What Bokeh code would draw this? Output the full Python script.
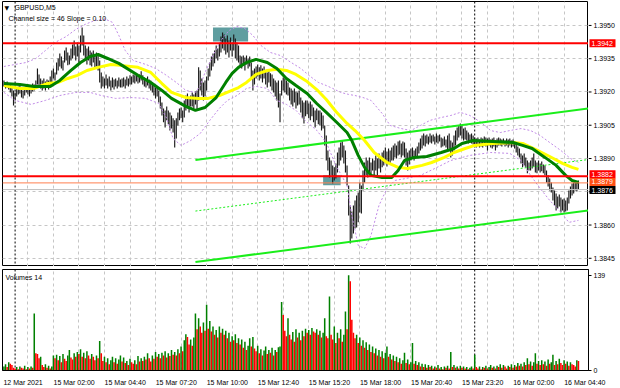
from bokeh.plotting import figure
from bokeh.layouts import column, row
from bokeh.models import Range1d, FixedTicker, Span, Label, Grid
from bokeh.core.properties import value
from bokeh.embed import file_html
from bokeh.resources import INLINE

FONT = "Liberation Sans"

symbol_label = "GBPUSD,M5"
channel_label = "Channel size = 46 Slope = 0.10"
volume_label = "Volumes 14"

# M5 bars, index counted from 15 Mar 2021 00:00 (first visible bar is 12 Mar 23:25)
first_bar = -7
highs = [
    1.39252, 1.39243, 1.39247, 1.39238, 1.39234, 1.39225, 1.39207,
    1.39198, 1.39216, 1.39225, 1.39229, 1.39216, 1.39207, 1.39220, 1.39229, 1.39234, 1.39225,
    1.39229, 1.39238, 1.39234, 1.39252, 1.39306, 1.39279, 1.39261, 1.39252, 1.39261, 1.39247,
    1.39256, 1.39252, 1.39270, 1.39297, 1.39306, 1.39288, 1.39333, 1.39351, 1.39374, 1.39360,
    1.39342, 1.39387, 1.39401, 1.39378, 1.39365, 1.39396, 1.39414, 1.39432, 1.39405, 1.39423,
    1.39410, 1.39455, 1.39491, 1.39455, 1.39410, 1.39396, 1.39405, 1.39387, 1.39378, 1.39387,
    1.39365, 1.39378, 1.39369, 1.39342, 1.39288, 1.39270, 1.39261, 1.39279, 1.39261, 1.39270,
    1.39252, 1.39265, 1.39256, 1.39261, 1.39252, 1.39265, 1.39256, 1.39261, 1.39265, 1.39256,
    1.39270, 1.39261, 1.39275, 1.39270, 1.39279, 1.39275, 1.39284, 1.39275, 1.39279, 1.39293,
    1.39275, 1.39265, 1.39261, 1.39270, 1.39256, 1.39252, 1.39243, 1.39229, 1.39220, 1.39225,
    1.39207, 1.39180, 1.39153, 1.39126, 1.39117, 1.39135, 1.39117, 1.39108, 1.39094, 1.39081,
    1.39072, 1.39081, 1.39108, 1.39126, 1.39130, 1.39117, 1.39162, 1.39184, 1.39193, 1.39175,
    1.39184, 1.39198, 1.39189, 1.39202, 1.39207, 1.39311, 1.39297, 1.39261, 1.39243, 1.39252,
    1.39270, 1.39306, 1.39333, 1.39360, 1.39374, 1.39387, 1.39410, 1.39396, 1.39419, 1.39450,
    1.39468, 1.39459, 1.39441, 1.39455, 1.39432, 1.39446, 1.39423, 1.39459, 1.39441, 1.39423,
    1.39410, 1.39365, 1.39360, 1.39365, 1.39356, 1.39365, 1.39351, 1.39360, 1.39333, 1.39297,
    1.39306, 1.39315, 1.39324, 1.39311, 1.39320, 1.39306, 1.39315, 1.39297, 1.39288, 1.39297,
    1.39284, 1.39279, 1.39261, 1.39252, 1.39243, 1.39252, 1.39193, 1.39252, 1.39265, 1.39261,
    1.39252, 1.39243, 1.39220, 1.39216, 1.39207, 1.39216, 1.39202, 1.39198, 1.39207, 1.39175,
    1.39162, 1.39153, 1.39162, 1.39162, 1.39148, 1.39157, 1.39144, 1.39130, 1.39117, 1.39126,
    1.39117, 1.39117, 1.39108, 1.39094, 1.39049, 1.39004, 1.38936, 1.38905, 1.38891, 1.38869,
    1.38860, 1.38878, 1.38927, 1.38950, 1.38972, 1.38981, 1.38959, 1.38936, 1.38869, 1.38778,
    1.38688, 1.38661, 1.38688, 1.38711, 1.38733, 1.38747, 1.38792, 1.38778, 1.38846, 1.38882,
    1.38905, 1.38891, 1.38905, 1.38882, 1.38900, 1.38891, 1.38914, 1.38900, 1.38923, 1.38909,
    1.38927, 1.38936, 1.38950, 1.38932, 1.38945, 1.38936, 1.38950, 1.38959, 1.38968, 1.38959,
    1.38977, 1.38981, 1.38968, 1.38977, 1.38972, 1.38945, 1.38927, 1.38936, 1.38945, 1.38950,
    1.38936, 1.38945, 1.38954, 1.38972, 1.38990, 1.39004, 1.39013, 1.39004, 1.39008, 1.38999,
    1.39013, 1.39004, 1.39008, 1.38999, 1.39013, 1.39004, 1.39008, 1.38995, 1.38990, 1.38999,
    1.38986, 1.39004, 1.39013, 1.38981, 1.38972, 1.39004, 1.39026, 1.39040, 1.39049, 1.39058,
    1.39049, 1.39035, 1.39040, 1.39026, 1.39017, 1.39008, 1.39013, 1.39004, 1.38995, 1.38990,
    1.38995, 1.38986, 1.38995, 1.38990, 1.38999, 1.38995, 1.38990, 1.38995, 1.38986, 1.38990,
    1.38995, 1.38981, 1.38990, 1.38995, 1.38990, 1.38986, 1.38990, 1.38981, 1.38990, 1.38986,
    1.38990, 1.38981, 1.38986, 1.38977, 1.38968, 1.38954, 1.38945, 1.38923, 1.38914, 1.38923,
    1.38905, 1.38891, 1.38882, 1.38891, 1.38905, 1.38923, 1.38891, 1.38882, 1.38891, 1.38878,
    1.38887, 1.38873, 1.38869, 1.38846, 1.38824, 1.38810, 1.38792, 1.38769, 1.38756, 1.38742,
    1.38729, 1.38738, 1.38724, 1.38715, 1.38720, 1.38711, 1.38724, 1.38756, 1.38774, 1.38787,
    1.38792, 1.38801, 1.38796, 1.38801,
]
lows = [
    1.39225, 1.39216, 1.39220, 1.39211, 1.39198, 1.39180, 1.39139,
    1.39162, 1.39180, 1.39189, 1.39193, 1.39175, 1.39171, 1.39184, 1.39198, 1.39189, 1.39180,
    1.39193, 1.39202, 1.39207, 1.39216, 1.39234, 1.39225, 1.39216, 1.39207, 1.39216, 1.39207,
    1.39220, 1.39211, 1.39225, 1.39243, 1.39261, 1.39252, 1.39279, 1.39297, 1.39315, 1.39306,
    1.39297, 1.39333, 1.39342, 1.39320, 1.39324, 1.39342, 1.39351, 1.39365, 1.39342, 1.39360,
    1.39333, 1.39378, 1.39410, 1.39365, 1.39342, 1.39324, 1.39342, 1.39320, 1.39315, 1.39333,
    1.39306, 1.39315, 1.39297, 1.39243, 1.39216, 1.39225, 1.39216, 1.39229, 1.39216, 1.39225,
    1.39207, 1.39220, 1.39211, 1.39225, 1.39216, 1.39225, 1.39220, 1.39220, 1.39225, 1.39216,
    1.39229, 1.39225, 1.39234, 1.39234, 1.39243, 1.39238, 1.39247, 1.39238, 1.39243, 1.39252,
    1.39234, 1.39225, 1.39220, 1.39229, 1.39216, 1.39207, 1.39198, 1.39184, 1.39171, 1.39180,
    1.39153, 1.39126, 1.39094, 1.39063, 1.39040, 1.39072, 1.39054, 1.39026, 1.39035, 1.39017,
    1.38950, 1.38990, 1.39049, 1.39072, 1.39081, 1.39063, 1.39085, 1.39117, 1.39126, 1.39108,
    1.39135, 1.39135, 1.39126, 1.39144, 1.39117, 1.39162, 1.39207, 1.39184, 1.39162, 1.39180,
    1.39207, 1.39252, 1.39270, 1.39297, 1.39315, 1.39329, 1.39351, 1.39342, 1.39360, 1.39378,
    1.39396, 1.39387, 1.39369, 1.39378, 1.39356, 1.39387, 1.39360, 1.39387, 1.39351, 1.39342,
    1.39333, 1.39315, 1.39306, 1.39320, 1.39297, 1.39324, 1.39306, 1.39315, 1.39261, 1.39207,
    1.39234, 1.39261, 1.39270, 1.39252, 1.39261, 1.39243, 1.39261, 1.39234, 1.39220, 1.39243,
    1.39225, 1.39207, 1.39198, 1.39180, 1.39162, 1.39130, 1.39063, 1.39184, 1.39207, 1.39198,
    1.39189, 1.39184, 1.39162, 1.39144, 1.39135, 1.39153, 1.39126, 1.39139, 1.39144, 1.39108,
    1.39081, 1.39058, 1.39090, 1.39099, 1.39081, 1.39072, 1.39090, 1.39063, 1.39040, 1.39072,
    1.39054, 1.39049, 1.39026, 1.39035, 1.38959, 1.38891, 1.38846, 1.38814, 1.38824, 1.38787,
    1.38801, 1.38810, 1.38837, 1.38869, 1.38891, 1.38905, 1.38878, 1.38837, 1.38778, 1.38643,
    1.38517, 1.38539, 1.38562, 1.38584, 1.38589, 1.38612, 1.38657, 1.38652, 1.38756, 1.38792,
    1.38824, 1.38814, 1.38837, 1.38819, 1.38846, 1.38819, 1.38846, 1.38824, 1.38855, 1.38837,
    1.38860, 1.38869, 1.38882, 1.38864, 1.38878, 1.38873, 1.38891, 1.38891, 1.38905, 1.38900,
    1.38914, 1.38918, 1.38905, 1.38914, 1.38905, 1.38869, 1.38846, 1.38873, 1.38891, 1.38900,
    1.38891, 1.38900, 1.38905, 1.38923, 1.38936, 1.38945, 1.38959, 1.38954, 1.38968, 1.38963,
    1.38972, 1.38968, 1.38977, 1.38963, 1.38972, 1.38968, 1.38977, 1.38950, 1.38954, 1.38959,
    1.38950, 1.38936, 1.38945, 1.38905, 1.38914, 1.38936, 1.38959, 1.38981, 1.38995, 1.39004,
    1.38990, 1.38981, 1.38986, 1.38981, 1.38968, 1.38972, 1.38968, 1.38963, 1.38954, 1.38950,
    1.38959, 1.38950, 1.38954, 1.38950, 1.38959, 1.38954, 1.38936, 1.38959, 1.38950, 1.38945,
    1.38954, 1.38936, 1.38950, 1.38959, 1.38959, 1.38954, 1.38963, 1.38954, 1.38959, 1.38950,
    1.38959, 1.38950, 1.38954, 1.38945, 1.38927, 1.38914, 1.38905, 1.38878, 1.38860, 1.38869,
    1.38860, 1.38833, 1.38846, 1.38846, 1.38855, 1.38864, 1.38837, 1.38833, 1.38846, 1.38837,
    1.38842, 1.38833, 1.38824, 1.38792, 1.38774, 1.38756, 1.38747, 1.38711, 1.38688, 1.38666,
    1.38675, 1.38684, 1.38657, 1.38666, 1.38657, 1.38661, 1.38666, 1.38697, 1.38720, 1.38733,
    1.38742, 1.38756, 1.38751, 1.38760,
]
volumes = [
    6, 9, 5, 12, 10, 8, 4,
    3, 5, 2, 6, 4, 3, 7, 2, 5, 3,
    6, 4, 83, 25, 24, 18, 20, 8, 5, 9,
    4, 7, 3, 6, 22, 18, 23, 15, 21, 12,
    24, 17, 14, 22, 30, 19, 16, 25, 20, 27,
    24, 31, 20, 26, 18, 28, 22, 17, 24, 20,
    15, 22, 18, 43, 25, 14, 20, 12, 18, 9,
    15, 20, 12, 18, 10, 16, 22, 13, 19, 11,
    14, 8, 17, 12, 10, 15, 9, 21, 13, 18,
    14, 20, 16, 25, 18, 13, 22, 17, 27, 20,
    24, 18, 26, 22, 28, 19, 25, 21, 30, 23,
    27, 22, 31, 25, 35, 28, 44, 53, 49, 38,
    45, 36, 48, 83, 60, 76, 64, 55, 70, 58,
    96, 61, 72, 57, 64, 52, 59, 48, 64, 55,
    61, 52, 58, 47, 55, 42, 50, 44, 53, 40,
    47, 38, 45, 33, 42, 30, 36, 47, 35, 49,
    32, 28, 36, 25, 31, 22, 29, 35, 24, 30,
    26, 33, 22, 30, 27, 34, 35, 100, 81, 58,
    50, 76, 52, 45, 56, 42, 60, 48, 55, 44,
    58, 50, 61, 55, 59, 52, 62, 57, 55, 60,
    52, 58, 48, 55, 76, 50, 47, 108, 52, 45,
    64, 40, 55, 47, 60, 42, 52, 86, 60, 139,
    130, 74, 55, 47, 52, 40, 48, 36, 44, 33,
    41, 30, 38, 27, 35, 25, 32, 22, 30, 20,
    28, 18, 26, 35, 20, 24, 16, 22, 14, 20,
    12, 18, 10, 15, 26, 11, 16, 9, 12, 40,
    10, 14, 8, 12, 6, 10, 5, 9, 4, 8,
    5, 7, 3, 6, 4, 8, 3, 5, 2, 6,
    4, 7, 3, 27, 5, 8, 4, 6, 3, 7,
    4, 6, 3, 5, 2, 4, 6, 3, 23, 5,
    3, 6, 2, 5, 4, 7, 3, 5, 8, 4,
    6, 3, 7, 5, 9, 4, 8, 6, 3, 7,
    5, 9, 4, 8, 6, 11, 7, 10, 6, 12,
    8, 18, 9, 13, 7, 12, 25, 10, 14, 8,
    15, 9, 13, 7, 16, 10, 12, 23, 8, 14,
    9, 17, 11, 8, 15, 10, 13, 7, 12, 9,
    8, 6, 15, 14,
]

# moving averages (read at sample bars)
ma_green_bars = [-7, 3, 12, 22, 28, 35, 41, 47, 52, 58, 65, 77, 85, 92, 98, 107, 113, 119, 126, 132,
                 136, 140, 145, 151, 158, 164, 170, 176, 183, 189, 195, 201, 208, 211, 215, 219, 223, 230, 236, 240,
                 244, 250, 258, 267, 275, 280, 287, 299, 312, 318, 324, 332, 339, 345, 349, 353]
ma_green = [1.39238, 1.39234, 1.39225, 1.39225, 1.39252, 1.39297, 1.39333, 1.39360, 1.39369, 1.39351,
            1.39329, 1.39275, 1.39243, 1.39207, 1.39171, 1.39135, 1.39117, 1.39130, 1.39175, 1.39243,
            1.39284, 1.39311, 1.39333, 1.39347, 1.39333, 1.39306, 1.39261, 1.39229, 1.39193, 1.39148,
            1.39108, 1.39067, 1.39017, 1.38981, 1.38914, 1.38860, 1.38824, 1.38814, 1.38814, 1.38846,
            1.38891, 1.38905, 1.38909, 1.38927, 1.38945, 1.38968, 1.38981, 1.38977, 1.38972, 1.38959,
            1.38945, 1.38905, 1.38869, 1.38824, 1.38801, 1.38792]
ma_yellow_bars = [-7, 3, 12, 20, 27, 33, 39, 45, 52, 60, 66, 77, 85, 92, 98, 107, 115, 121, 128, 134,
                  140, 145, 151, 158, 164, 170, 176, 183, 189, 195, 201, 208, 213, 219, 225, 233, 240, 246, 255, 261,
                  269, 275, 282, 288, 299, 312, 318, 326, 335, 343, 349, 353]
ma_yellow = [1.39229, 1.39216, 1.39216, 1.39238, 1.39243, 1.39261, 1.39275, 1.39297, 1.39311, 1.39324,
             1.39320, 1.39311, 1.39288, 1.39238, 1.39198, 1.39175, 1.39171, 1.39171, 1.39184, 1.39202,
             1.39220, 1.39243, 1.39279, 1.39297, 1.39302, 1.39297, 1.39279, 1.39247, 1.39211, 1.39166,
             1.39112, 1.39058, 1.39026, 1.38981, 1.38927, 1.38882, 1.38860, 1.38855, 1.38869, 1.38882,
             1.38905, 1.38927, 1.38945, 1.38959, 1.38968, 1.38972, 1.38968, 1.38941, 1.38909, 1.38878,
             1.38860, 1.38851]

# envelope bands (dotted violet)
band_upper_bars = [-7, 0, 7, 13, 19, 25, 32, 38, 44, 50, 57, 61, 65, 69, 74, 82, 88, 94, 101, 107,
                   113, 116, 119, 124, 129, 134, 139, 144, 149, 154, 160, 166, 173, 179, 185, 190, 195, 199, 204, 209,
                   213, 218, 223, 230, 235, 242, 248, 254, 260, 267, 273, 279, 285, 292, 298, 304, 310, 317, 323, 329,
                   335, 342, 348, 353]
band_upper = [1.39315, 1.39324, 1.39333, 1.39351, 1.39387, 1.39423, 1.39450, 1.39482, 1.39505, 1.39523,
              1.39527, 1.39514, 1.39455, 1.39387, 1.39342, 1.39324, 1.39306, 1.39279, 1.39243, 1.39207,
              1.39198, 1.39229, 1.39288, 1.39365, 1.39432, 1.39477, 1.39495, 1.39486, 1.39455, 1.39410,
              1.39378, 1.39365, 1.39333, 1.39306, 1.39270, 1.39243, 1.39229, 1.39216, 1.39198, 1.39189,
              1.39184, 1.39175, 1.39162, 1.39103, 1.39049, 1.39035, 1.39026, 1.39049, 1.39072, 1.39085,
              1.39094, 1.39108, 1.39094, 1.39063, 1.39026, 1.39017, 1.39026, 1.39035, 1.39026, 1.39004,
              1.38972, 1.38936, 1.38900, 1.38882]
band_lower_bars = [-7, 0, 10, 19, 28, 38, 47, 54, 63, 72, 82, 90, 95, 99, 104, 110, 116, 122, 128, 133,
                   139, 145, 151, 158, 164, 170, 176, 183, 189, 195, 201, 208, 211, 215, 219, 223, 228, 233, 238, 245,
                   254, 263, 273, 285, 298, 310, 317, 323, 329, 335, 342, 347, 353]
band_lower = [1.39198, 1.39162, 1.39144, 1.39162, 1.39184, 1.39198, 1.39198, 1.39184, 1.39171, 1.39175,
              1.39171, 1.39148, 1.39081, 1.38990, 1.38959, 1.38981, 1.39013, 1.39072, 1.39126, 1.39162,
              1.39184, 1.39216, 1.39225, 1.39216, 1.39162, 1.39144, 1.39117, 1.39063, 1.39027, 1.38972,
              1.38869, 1.38779, 1.38643, 1.38508, 1.38494, 1.38553, 1.38688, 1.38765, 1.38801, 1.38810,
              1.38824, 1.38855, 1.38891, 1.38914, 1.38927, 1.38923, 1.38891, 1.38824, 1.38765, 1.38711,
              1.38657, 1.38612, 1.38621]

# regression channel (46 pips wide)
channel_bars = [113, 362]
channel_upper = [1.38893, 1.39128]
channel_middle = [1.38663, 1.38898]
channel_lower = [1.38433, 1.38668]

# horizontal levels
red_levels = [1.3942, 1.3882]
orange_level = 1.3879
bid_price = 1.3876
tag_prices = [1.3942, 1.3882, 1.3879, 1.3876]
tag_colors = ["#ff0000", "#ff0000", "#ff5014", "#000000"]
tag_shift_px = [0, 2, 1, -0.5]   # MT4 nudges overlapping tags apart

# rectangles (zones)
zone_left = [124, 193]
zone_right = [146, 204]
zone_top = [1.39491, 1.38824]
zone_bottom = [1.39428, 1.38779]

price_ticks = [1.3845, 1.3860, 1.3875, 1.3890, 1.3905, 1.3920, 1.3935, 1.3950]
hidden_price_ticks = [1.3875]    # covered by the price tags
volume_ticks = [0, 139]
time_label_bars = [-7, 24, 56, 88, 120, 152, 184, 216, 248, 280, 312, 344]
time_labels = ["12 Mar 2021", "15 Mar 02:00", "15 Mar 04:40", "15 Mar 07:20", "15 Mar 10:00",
               "15 Mar 12:40", "15 Mar 15:20", "15 Mar 18:00", "15 Mar 20:40", "15 Mar 23:20",
               "16 Mar 02:00", "16 Mar 04:40"]
time_grid_bars = list(range(8, 353, 16))
day_start_bars = [0, 288]

bars = list(range(first_bar, first_bar + len(highs)))

X_START, X_END = -7.9, 359.3
FRAME_W = 586
px_per_bar = FRAME_W / (X_END - X_START)
GRID_COLOR = "#c6c6c6"
Y_BOT, Y_TOP = 1.38413, 1.39608
MAIN_H = 266
price_per_px = (Y_TOP - Y_BOT) / (MAIN_H - 1)

x_range = Range1d(X_START, X_END)
y_range = Range1d(Y_BOT, Y_TOP)

# ---------------- main price panel ----------------
p1 = figure(width=588, height=MAIN_H, x_range=x_range, y_range=y_range,
            x_axis_location=None, y_axis_location=None, output_backend="svg",
            toolbar_location=None, min_border_left=2, min_border_right=0,
            min_border_top=1, min_border_bottom=0)
p1.outline_line_color = "black"
p1.background_fill_color = "white"
p1.border_fill_color = "white"
p1.xgrid.visible = False
p1.ygrid.visible = False
p1.add_layout(Grid(dimension=0, ticker=FixedTicker(ticks=time_grid_bars),
                   grid_line_color=GRID_COLOR, grid_line_dash="3 3"))
p1.add_layout(Grid(dimension=1, ticker=FixedTicker(ticks=price_ticks),
                   grid_line_color=GRID_COLOR, grid_line_dash="3 3"))
for b in day_start_bars:
    p1.add_layout(Span(location=b, dimension="height", line_color="black",
                       line_dash="2 2", line_width=1, level="underlay"))

p1.quad(left=zone_left, right=zone_right, top=zone_top, bottom=zone_bottom,
        fill_color="#5f9ea0", line_color=None)
p1.segment(x0=bars, x1=bars, y0=lows, y1=highs, line_color="#1a1a1a", line_width=1.15)

p1.line(band_upper_bars, band_upper, line_color="#c08ae6", line_dash="2 2", line_width=1)
p1.line(band_lower_bars, band_lower, line_color="#c08ae6", line_dash="2 2", line_width=1)

p1.line(channel_bars, channel_upper, line_color="#1aee1a", line_width=2)
p1.line(channel_bars, channel_middle, line_color="#1aee1a", line_width=1, line_dash="2 2")
p1.line(channel_bars, channel_lower, line_color="#1aee1a", line_width=2)

p1.line(ma_yellow_bars, ma_yellow, line_color="#ffff00", line_width=3)
p1.line(ma_green_bars, ma_green, line_color="#008000", line_width=3)

p1.add_layout(Span(location=bid_price, dimension="width", line_color="#c0c0c0", line_width=1))
p1.add_layout(Span(location=orange_level, dimension="width", line_color="#ff7f50", line_width=1))
for lv in red_levels:
    p1.add_layout(Span(location=lv, dimension="width", line_color="#ff0000", line_width=2))

p1.add_layout(Label(x=X_START, y=Y_TOP, x_offset=2, y_offset=-6, text="\u25bc",
                    text_font="DejaVu Sans", text_font_size="6px", text_baseline="middle",
                    text_color="black"))
p1.add_layout(Label(x=X_START, y=Y_TOP, x_offset=12, y_offset=-6, text=symbol_label,
                    text_font=FONT, text_font_size="7px", text_baseline="middle",
                    text_color="black"))
p1.add_layout(Label(x=X_START, y=Y_TOP, x_offset=6, y_offset=-17, text=channel_label,
                    text_font=FONT, text_font_size="7px", text_baseline="middle",
                    text_color="black"))

# ---------------- price scale strip (right of the main panel) ----------------
ps = figure(width=32, height=MAIN_H, x_range=Range1d(0, 32), y_range=y_range,
            x_axis_location=None, y_axis_location=None, output_backend="svg",
            toolbar_location=None, min_border_left=0, min_border_right=0,
            min_border_top=1, min_border_bottom=0)
ps.outline_line_color = None
ps.background_fill_color = "white"
ps.border_fill_color = "white"
ps.xgrid.visible = False
ps.ygrid.visible = False
shown_ticks = [t for t in price_ticks if t not in hidden_price_ticks]
ps.segment(x0=[0] * len(price_ticks), x1=[3] * len(price_ticks), y0=price_ticks, y1=price_ticks,
           line_color="black", line_width=1)
ps.text(x=[5] * len(shown_ticks), y=shown_ticks, text=[f"{t:.4f}" for t in shown_ticks],
        text_font=value(FONT), text_font_size=value("7px"), text_color="black",
        text_baseline="middle", text_align="left")
tag_y = [pr + s * price_per_px for pr, s in zip(tag_prices, tag_shift_px)]
half_h = 4 * price_per_px
ps.quad(left=[1] * 4, right=[27] * 4, top=[y + half_h for y in tag_y],
        bottom=[y - half_h for y in tag_y], fill_color=tag_colors, line_color=None)
ps.text(x=[3] * 4, y=tag_y, text=[f"{t:.4f}" for t in tag_prices],
        text_font=value(FONT), text_font_size=value("7px"), text_color="white",
        text_baseline="middle", text_align="left")

# ---------------- volume panel ----------------
p2 = figure(width=620, height=122, x_range=x_range, y_range=Range1d(0, 147.2),
            y_axis_location="right", output_backend="svg", toolbar_location=None,
            min_border_left=2, min_border_right=32, min_border_top=3, min_border_bottom=18)
p2.outline_line_color = "black"
p2.background_fill_color = "white"
p2.border_fill_color = "white"

vol_colors = ["#008000"]
for k in range(1, len(volumes)):
    vol_colors.append("#008000" if volumes[k] > volumes[k - 1] else "#ff0000")

ay2 = p2.yaxis[0]
ay2.ticker = FixedTicker(ticks=volume_ticks)
ay2.major_label_text_font = FONT
ay2.major_label_text_font_size = "7px"
ay2.major_label_text_color = "black"
ay2.major_tick_out = 3
ay2.major_tick_in = 0
ay2.minor_tick_line_color = None
ay2.axis_line_color = "black"
ay2.major_label_standoff = 2
p2.ygrid.visible = False

time_ticks = [b + round(len(t) * 3.5 / 2 / px_per_bar) for b, t in zip(time_label_bars, time_labels)]
ax2 = p2.xaxis[0]
ax2.ticker = FixedTicker(ticks=time_ticks)
ax2.major_label_overrides = {tk: t for tk, t in zip(time_ticks, time_labels)}
ax2.major_label_text_font = FONT
ax2.major_label_text_font_size = "7px"
ax2.major_label_text_color = "black"
ax2.major_tick_line_color = None
ax2.minor_tick_line_color = None
ax2.axis_line_color = "black"
ax2.major_label_standoff = 2
p2.xgrid.ticker = FixedTicker(ticks=time_grid_bars)
p2.xgrid.grid_line_color = GRID_COLOR
p2.xgrid.grid_line_dash = "3 3"
for b in day_start_bars:
    p2.add_layout(Span(location=b, dimension="height", line_color="black",
                       line_dash="2 2", line_width=1, level="underlay"))

p2.vbar(x=bars, top=volumes, bottom=0, width=0.95, fill_color=vol_colors, line_color=None)

p2.add_layout(Label(x=X_START, y=147.2, x_offset=3, y_offset=-8, text=volume_label,
                    text_font=FONT, text_font_size="7px", text_baseline="middle",
                    text_color="black"))

layout = column(row(p1, ps), p2)
open("out.html", "w").write(file_html(layout, INLINE))
